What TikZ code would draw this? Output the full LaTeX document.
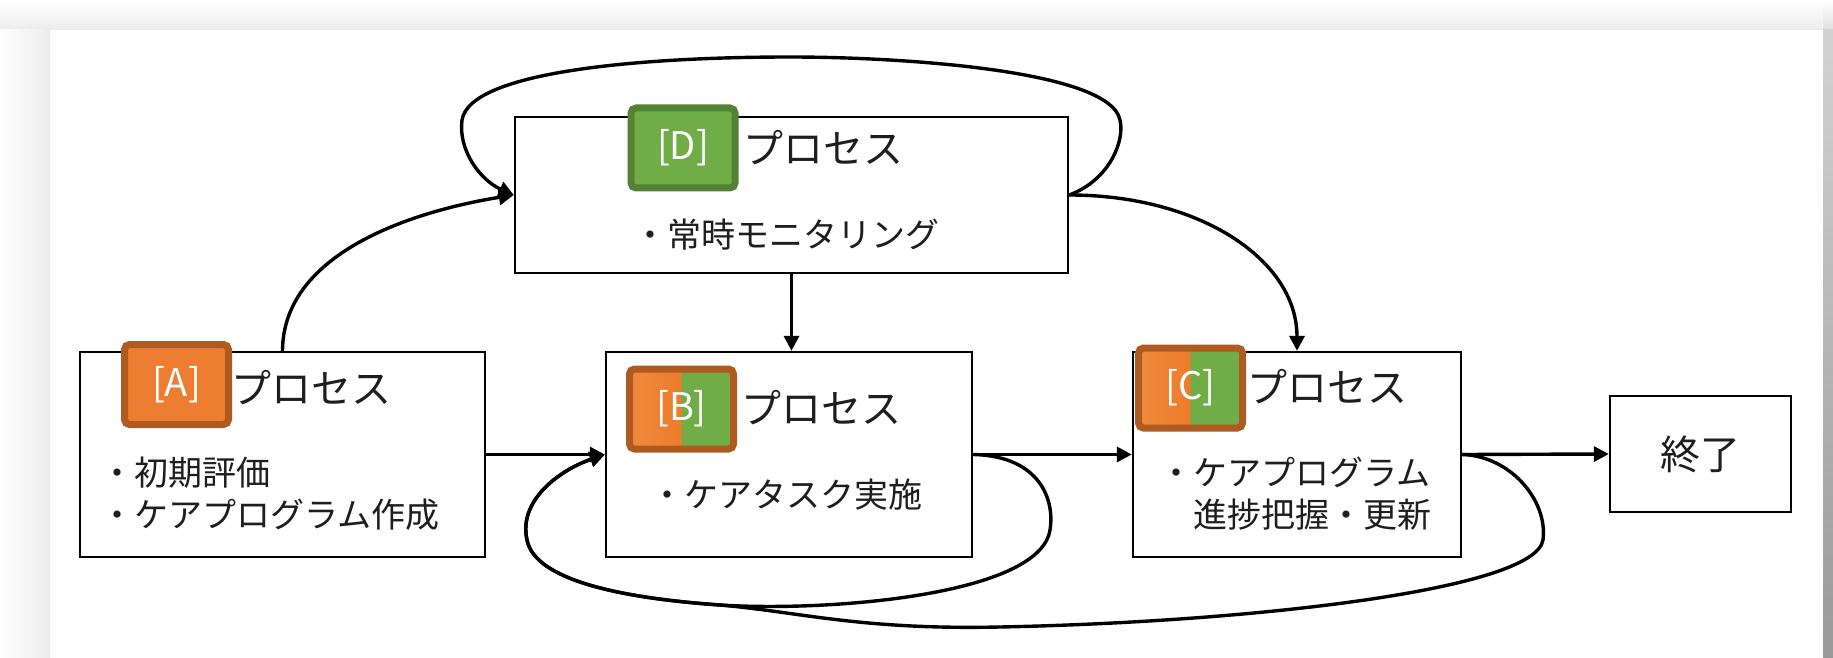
\documentclass[tikz,border=0pt]{standalone}
\usepackage{fontspec}
\setmainfont{Noto Sans CJK JP}
\usetikzlibrary{arrows.meta}
\definecolor{orA}{HTML}{ED7D31}
\definecolor{orL}{HTML}{F08A3D}
\definecolor{orR}{HTML}{E86F19}
\definecolor{orB}{HTML}{AE5A21}
\definecolor{grF}{HTML}{70AD47}
\definecolor{grB}{HTML}{548235}
\definecolor{txt}{HTML}{1E1E1E}
\definecolor{shd}{HTML}{ECECEC}
\begin{document}
\begin{tikzpicture}[x=0.5pt,y=-0.5pt,
  box/.style={draw=black, line width=1.2pt, fill=white, inner sep=0pt},
  badge/.style={draw=orB, fill=orA, line width=3.5pt, rounded corners=2.5pt, minimum width=52pt, minimum height=40pt, inner sep=0pt, text=white, font=\fontsize{19pt}{22pt}\selectfont},
  splitbadge/.style={badge, path picture={
     \fill[left color=orL, right color=orR] (path picture bounding box.north west) rectangle (path picture bounding box.south);
     \fill[grF] (path picture bounding box.north) rectangle (path picture bounding box.south east);}},
  ttl/.style={anchor=west, inner sep=0pt, text=txt, font=\fontsize{20pt}{24pt}\selectfont},
  bul/.style={anchor=west, inner sep=0pt, align=left, text=txt, font=\fontsize{17pt}{21pt}\selectfont},
  conn/.style={line width=1.7pt, -{Triangle[length=7.5pt,width=7.5pt]}}
]
\useasboundingbox (0,0) rectangle (1833,658);
% page background and shadow
\fill[white] (0,0) rectangle (1833,658);
\shade[top color=white, bottom color=shd] (0,0) rectangle (1823,30);
\shade[left color=white, right color=shd] (0,30) rectangle (50,658);
\shade[top color=white, bottom color=gray!25] (1823,0) rectangle (1833,30);
\shade[top color=gray!35, bottom color=gray!80] (1823,30) rectangle (1833,658);

% boxes
\node[box, minimum width=202.5pt, minimum height=102.5pt] (A) at (282.5,454.5) {};
\node[box, minimum width=183pt, minimum height=102.5pt] (B) at (789,454.5) {};
\node[box, minimum width=164pt, minimum height=102.5pt] (C) at (1297,454.5) {};
\node[box, minimum width=276.5pt, minimum height=78pt] (D) at (791.5,195) {};
\node[box, minimum width=90.5pt, minimum height=58pt, text=txt, font=\fontsize{20pt}{24pt}\selectfont] (E) at (1700.5,454) {終了};

% connectors
\draw[conn] (A.north) .. controls (283,250) and (420,210) .. (D.west);
\draw[conn] (D.east) .. controls (1110,180) and (1125,140) .. (1120,120)
   .. controls (1110,70) and (900,57) .. (790,57)
   .. controls (650,57) and (470,70) .. (462,120)
   .. controls (458,150) and (480,180) .. (D.west);
\draw[conn] (D.south) -- (D.south |- B.north);
\draw[conn] (D.east) .. controls (1200,195) and (1297,260) .. (C.north);
\draw[conn] (A.east) -- (B.west);
\draw[conn] (B.east) -- (C.west);
\draw[conn] (C.east) -- (E.west);
\draw[conn] (B.east) .. controls (1040,456) and (1055,500) .. (1050,530)
   .. controls (1040,595) and (830,612) .. (720,605)
   .. controls (620,598) and (535,580) .. (527,540)
   .. controls (518,500) and (560,470) .. (B.west);
\draw[conn] (C.east) .. controls (1510,456) and (1548,500) .. (1543,540)
   .. controls (1535,590) and (1250,622) .. (1000,627)
   .. controls (860,630) and (800,612) .. (720,605)
   .. controls (620,598) and (535,580) .. (527,540)
   .. controls (518,500) and (560,470) .. (B.west);

% badges
\node[badge] (bA) at (176.5,384.5) {[A]};
\node[splitbadge] (bB) at (681.5,409) {[B]};
\node[splitbadge] (bC) at (1190.5,388) {[C]};
\node[badge, draw=grB, fill=grF] (bD) at (683,148) {[D]};

% titles
\node[ttl] (tA) at (231,388) {プロセス};
\node[ttl] (tB) at (741,408) {プロセス};
\node[ttl] (tC) at (1247,387) {プロセス};
\node[ttl] (tD) at (743,148) {プロセス};

% bullets
\node[bul] (lA) at (100,494) {・初期評価\\・ケアプログラム作成};
\node[bul] (lB) at (650,495) {・ケアタスク実施};
\node[bul] (lC) at (1159,494) {・ケアプログラム\\\hspace*{1em}進捗把握・更新};
\node[bul] (lD) at (633,235) {・常時モニタリング};
\end{tikzpicture}
\end{document}
